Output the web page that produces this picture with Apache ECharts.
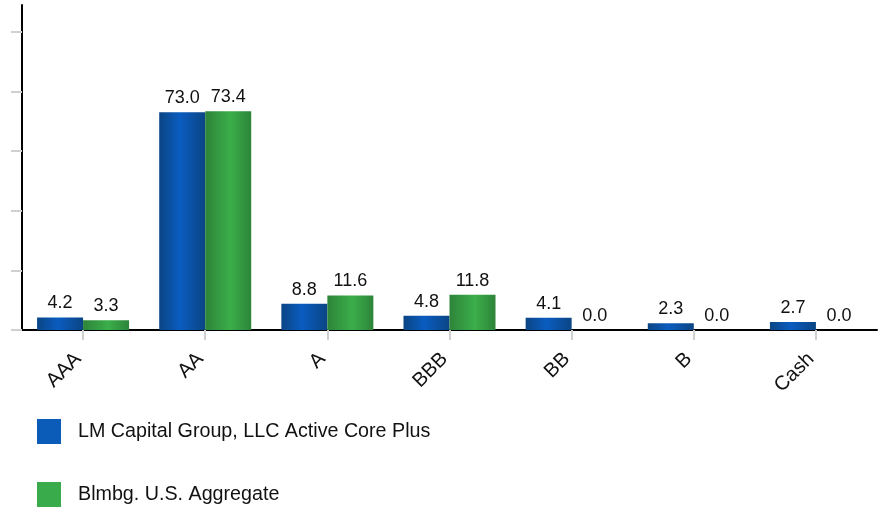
<!DOCTYPE html>
<html>
<head>
<meta charset="utf-8">
<script src="https://cdn.jsdelivr.net/npm/echarts@6/dist/echarts.min.js"></script>
<style>
html,body{margin:0;padding:0;background:#fff;}
#chart{width:884px;height:507px;}
</style>
</head>
<body>
<div id="chart"></div>
<script>
const categories = ['AAA', 'AA', 'A', 'BBB', 'BB', 'B', 'Cash'];
const seriesNames = ['LM Capital Group, LLC Active Core Plus', 'Blmbg. U.S. Aggregate'];
const portfolioValues = [4.2, 73.0, 8.8, 4.8, 4.1, 2.3, 2.7];
const benchmarkValues = [3.3, 73.4, 11.6, 11.8, 0.0, 0.0, 0.0];
const yTicks = [0, 20, 40, 60, 80, 100];

const FONT = 'Liberation Sans, Arial, sans-serif';
const blueGrad = new echarts.graphic.LinearGradient(0, 0, 1, 0, [
  {offset: 0, color: '#0b4584'},
  {offset: 0.45, color: '#0a5cc0'},
  {offset: 1, color: '#0b4584'}
]);
const greenGrad = new echarts.graphic.LinearGradient(0, 0, 1, 0, [
  {offset: 0, color: '#2d8439'},
  {offset: 0.55, color: '#3bae4a'},
  {offset: 1, color: '#2d8439'}
]);
const labelStyle = {
  show: true, position: 'top', distance: 5,
  fontSize: 18, fontFamily: FONT, color: '#111',
  formatter: p => Number(p.value).toFixed(1)
};
const legendBase = {
  orient: 'vertical', left: 32,
  itemWidth: 24, itemHeight: 25,
  icon: 'rect',
  textStyle: {fontSize: 19.7, fontFamily: FONT, color: '#111', padding: [0, 0, 0, 12]}
};

const chart = echarts.init(document.getElementById('chart'), null, {renderer: 'canvas'});
chart.setOption({
  animation: false,
  backgroundColor: '#fff',
  textStyle: {fontFamily: FONT},
  grid: {left: 22, right: 7, top: 5, bottom: 177, containLabel: false},
  legend: [
    Object.assign({}, legendBase, {top: 414, data: [{name: seriesNames[0], itemStyle: {color: '#0a5cb8'}}]}),
    Object.assign({}, legendBase, {top: 477, data: [{name: seriesNames[1], itemStyle: {color: '#3aab4a'}}]})
  ],
  xAxis: {
    type: 'category', data: categories,
    axisLine: {lineStyle: {color: '#000', width: 2}},
    axisTick: {show: true, alignWithLabel: true, length: 10, lineStyle: {color: '#d0d0d0', width: 2}},
    axisLabel: {rotate: 45, fontSize: 20, fontFamily: FONT, color: '#111', margin: 21, padding: [0, 7, 0, 0]}
  },
  yAxis: {
    type: 'value', min: 0, max: 109,
    axisLine: {show: true, lineStyle: {color: '#000', width: 2}},
    axisTick: {show: true, customValues: yTicks, length: 11, lineStyle: {color: '#d0d0d0', width: 2}},
    axisLabel: {show: false},
    splitLine: {show: false}
  },
  series: [
    {name: seriesNames[0], type: 'bar', data: portfolioValues, barWidth: 46, barGap: '0%',
     itemStyle: {color: blueGrad}, label: labelStyle},
    {name: seriesNames[1], type: 'bar', data: benchmarkValues, barWidth: 46, barGap: '0%',
     itemStyle: {color: greenGrad}, label: labelStyle}
  ]
});
</script>
</body>
</html>
